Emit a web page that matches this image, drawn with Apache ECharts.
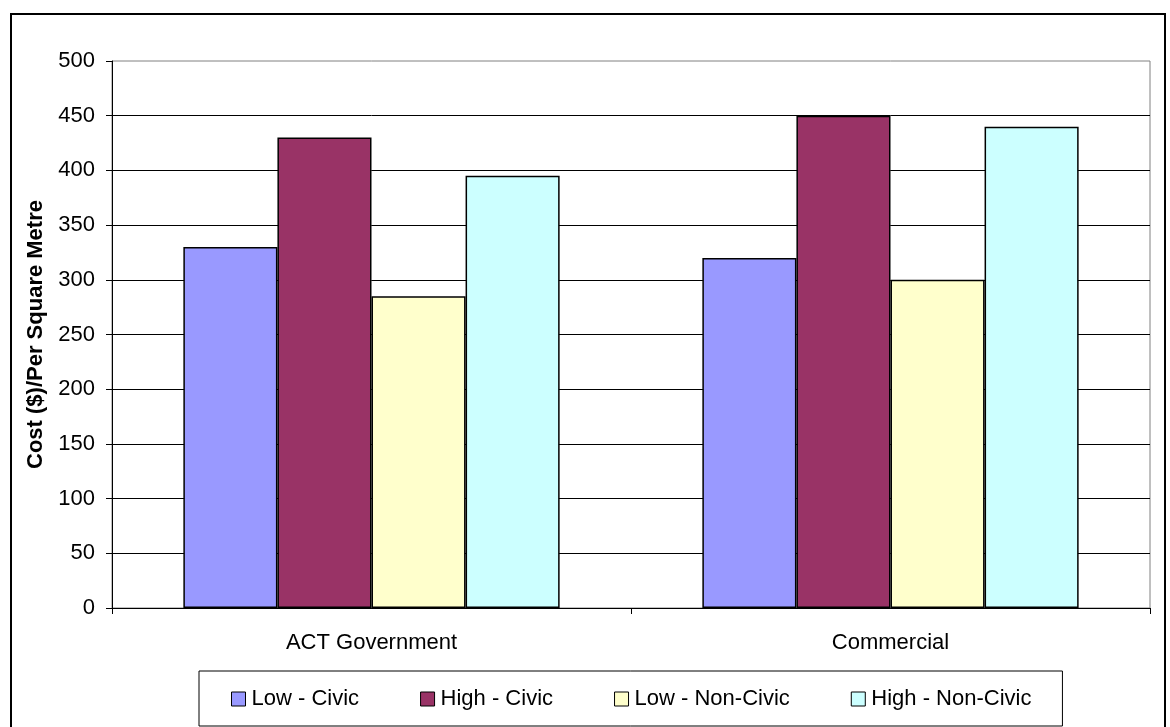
<!DOCTYPE html>
<html>
<head>
<meta charset="utf-8">
<script src="https://cdn.jsdelivr.net/npm/echarts@6/dist/echarts.min.js"></script>
<style>
  html, body { margin: 0; padding: 0; background: #fff; }
  #chart { width: 1170px; height: 727px; }
</style>
</head>
<body>
<div id="chart"></div>
<script>
// Construction cost per square metre by sector
const categories = ['ACT Government', 'Commercial'];
const seriesNames = ['Low - Civic', 'High - Civic', 'Low - Non-Civic', 'High - Non-Civic'];
const lowCivic = [330, 320];
const highCivic = [430, 450];
const lowNonCivic = [285, 300];
const highNonCivic = [395, 440];
const seriesColors = ['#9999FF', '#993366', '#FFFFCC', '#CCFFFF'];
const yTicks = { min: 0, max: 500, interval: 50 };

const seriesValues = [lowCivic, highCivic, lowNonCivic, highNonCivic];
const font = 'Liberation Sans, Arial, sans-serif';
const fs = 22;

const chart = echarts.init(document.getElementById('chart'), null, { renderer: 'canvas' });

chart.setOption({
  animation: false,
  backgroundColor: '#fff',
  textStyle: { fontFamily: font, color: '#000' },
  grid: {
    left: 112, right: 20, top: 61, bottom: 119,
    show: true, borderColor: '#808080', borderWidth: 1, backgroundColor: '#fff'
  },
  graphic: [{
    type: 'rect',
    shape: { x: 11, y: 14, width: 1154, height: 740 },
    style: { fill: 'none', stroke: '#000', lineWidth: 2 },
    silent: true, z: 100
  }],
  legend: {
    data: seriesNames,
    left: 199, top: 671,
    itemWidth: 14, itemHeight: 14, itemGap: 61,
    padding: [17, 31, 16, 32],
    borderColor: '#000', borderWidth: 1,
    icon: 'rect',
    textStyle: { fontFamily: font, fontSize: fs, color: '#000', padding: [0, 0, 0, 1] },
    itemStyle: { borderColor: '#000', borderWidth: 1 }
  },
  xAxis: {
    type: 'category',
    data: categories,
    axisLine: { lineStyle: { color: '#000', width: 1 } },
    axisTick: { show: true, length: 6, lineStyle: { color: '#000' } },
    axisLabel: { fontFamily: font, fontSize: fs, color: '#000', margin: 24 }
  },
  yAxis: {
    type: 'value',
    min: yTicks.min, max: yTicks.max, interval: yTicks.interval,
    name: 'Cost ($)/Per Square Metre',
    nameLocation: 'middle',
    nameGap: 65,
    nameTextStyle: { fontFamily: font, fontSize: fs, fontWeight: 'bold', color: '#000' },
    axisLine: { show: true, lineStyle: { color: '#000', width: 1 } },
    axisTick: { show: true, length: 6, lineStyle: { color: '#000' } },
    axisLabel: { fontFamily: font, fontSize: fs, color: '#000', margin: 17 },
    splitLine: { show: true, showMaxLine: false, lineStyle: { color: '#000', width: 1 } }
  },
  series: seriesNames.map((name, i) => ({
    name: name,
    type: 'bar',
    data: seriesValues[i],
    barGap: '0%',
    barCategoryGap: '27.5%',
    itemStyle: { color: seriesColors[i], borderColor: '#000', borderWidth: 1.5 }
  }))
});
</script>
</body>
</html>
